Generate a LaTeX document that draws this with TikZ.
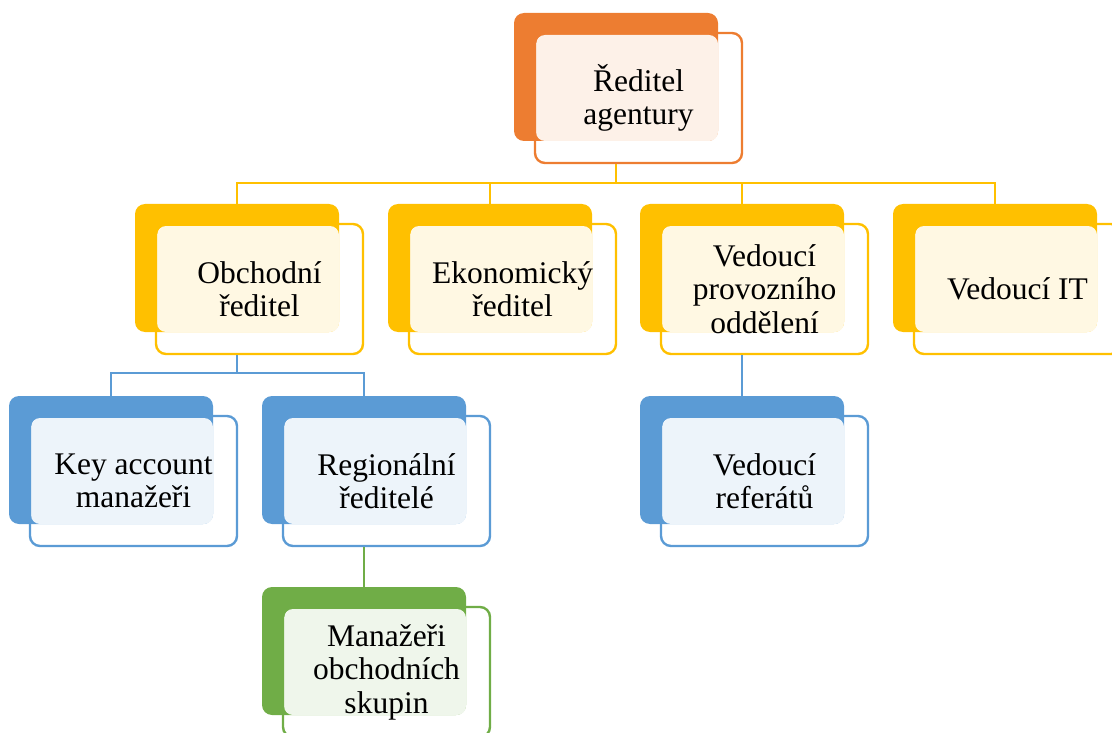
\documentclass[tikz,border=0pt]{standalone}
\usepackage{fontspec}
\setmainfont{Liberation Serif}
\newfontfamily\orgfont{Liberation Serif}
\usetikzlibrary{positioning}

\definecolor{orgorange}{HTML}{ED7D31}
\definecolor{orgyellow}{HTML}{FFC000}
\definecolor{orgblue}{HTML}{5B9BD5}
\definecolor{orggreen}{HTML}{70AD47}

\tikzset{
    backbox/.style={rectangle, rounded corners=10pt, inner sep=0pt,
        minimum width=204pt, minimum height=128pt},
    tintbox/.style={rectangle, rounded corners=9pt, inner sep=0pt,
        minimum width=182pt, minimum height=106pt},
    frontbox/.style={rectangle, rounded corners=10pt, line width=2.4pt, inner sep=0pt,
        minimum width=207pt, minimum height=130pt, align=center,
        font=\orgfont\fontsize{31.5}{33.5}\selectfont},
    link/.style={line width=2.4pt},
}

% one unit of the chart: dark box, tinted box, outlined box with the text
\newcommand{\orgunit}[4]{%
    \node[backbox, fill=#3] (#1b) at (#2) {};
    \node[tintbox, fill=#3!11] (#1t) at ([shift={(11,11)}]#1b.center) {};
    \node[frontbox, draw=#3] (#1f) at ([shift={(22.5,21)}]#1b.center) {#4};
}

\begin{document}
\begin{tikzpicture}[x=1pt, y=-1pt]
    \useasboundingbox (0,0) rectangle (1112,733);

    \orgunit{ceo}{616,77}{orgorange}{Ředitel\\agentury}

    \orgunit{obch}{237,268}{orgyellow}{Obchodní\\ředitel}
    \orgunit{ekon}{490,268}{orgyellow}{Ekonomický\\ředitel}
    \orgunit{prov}{742,268}{orgyellow}{Vedoucí\\provozního\\oddělení}
    \orgunit{it}{995,268}{orgyellow}{Vedoucí IT}

    \orgunit{key}{111,460}{orgblue}{Key account\\manažeři}
    \orgunit{reg}{364,460}{orgblue}{Regionální\\ředitelé}
    \orgunit{ref}{742,460}{orgblue}{Vedoucí\\referátů}

    \orgunit{skup}{364,651}{orggreen}{Manažeři\\obchodních\\skupin}

    % connectors
    \draw[link, orgyellow] (ceob.south |- ceof.south) -- ++(0,19) -| (obchb.north);
    \draw[link, orgyellow] (ceob.south |- ceof.south) -- ++(0,19) -| (ekonb.north);
    \draw[link, orgyellow] (ceob.south |- ceof.south) -- ++(0,19) -| (provb.north);
    \draw[link, orgyellow] (ceob.south |- ceof.south) -- ++(0,19) -| (itb.north);

    \draw[link, orgblue] (obchb.south |- obchf.south) -- ++(0,18) -| (keyb.north);
    \draw[link, orgblue] (obchb.south |- obchf.south) -- ++(0,18) -| (regb.north);
    \draw[link, orgblue] (provb.south |- provf.south) -- (refb.north);

    \draw[link, orggreen] (regb.south |- regf.south) -- (skupb.north);
\end{tikzpicture}
\end{document}
